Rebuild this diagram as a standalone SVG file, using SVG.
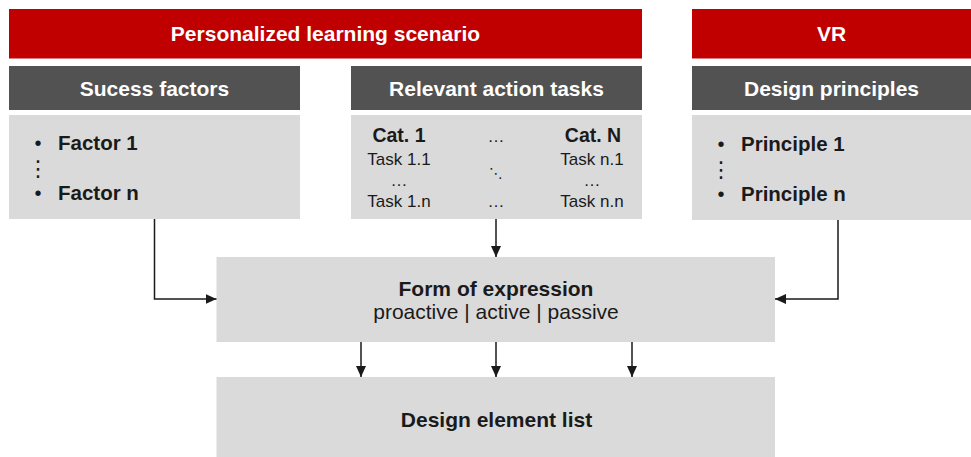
<svg xmlns="http://www.w3.org/2000/svg" width="971" height="457" viewBox="0 0 971 457">
  <defs>
    <marker id="arrow" markerUnits="userSpaceOnUse" markerWidth="11" markerHeight="10" refX="11" refY="5" orient="auto">
      <path d="M0,0 L11,5 L0,10 z" fill="#1a1a1a"/>
    </marker>
  </defs>
  <style>
    .red { fill: #c00000; }
    .dark { fill: #525252; }
    .light { fill: #dadada; }
    .hdr { font-family: "Liberation Sans", Arial, sans-serif; font-weight: bold; font-size: 21px; fill: #ffffff; text-anchor: middle; }
    .item { font-family: "Liberation Sans", Arial, sans-serif; font-weight: bold; font-size: 20.5px; fill: #1a1a1a; }
    .bul { font-family: "Liberation Sans", Arial, sans-serif; font-size: 20px; fill: #1a1a1a; text-anchor: middle; }
    .vdots { font-family: "DejaVu Sans", sans-serif; font-size: 22px; fill: #1a1a1a; text-anchor: middle; }
    .cat { font-family: "Liberation Sans", Arial, sans-serif; font-weight: bold; font-size: 19.5px; fill: #1a1a1a; text-anchor: middle; }
    .task { font-family: "Liberation Sans", Arial, sans-serif; font-size: 17px; fill: #1a1a1a; text-anchor: middle; }
    .sym { font-family: "DejaVu Sans", sans-serif; font-size: 14px; fill: #1a1a1a; text-anchor: middle; }
    .main { font-family: "Liberation Sans", Arial, sans-serif; font-weight: bold; font-size: 21px; fill: #1a1a1a; text-anchor: middle; }
    .sub { font-family: "Liberation Sans", Arial, sans-serif; font-size: 21px; fill: #1a1a1a; text-anchor: middle; }
    .conn { fill: none; stroke: #1a1a1a; stroke-width: 1.5; marker-end: url(#arrow); }
  </style>

  <!-- top banners -->
  <g id="scenario">
    <rect class="red" x="9" y="9" width="633" height="49.5"/>
    <text class="hdr" x="325.5" y="41">Personalized learning scenario</text>
  </g>
  <g id="vr">
    <rect class="red" x="692" y="9" width="279" height="49.5"/>
    <text class="hdr" x="831.5" y="41">VR</text>
  </g>

  <!-- success factors column -->
  <g id="success-factors">
    <rect class="dark" x="9" y="66" width="291" height="44"/>
    <text class="hdr" x="154.5" y="96">Sucess factors</text>
    <rect class="light" x="9" y="115" width="291" height="104"/>
    <text class="bul" x="38" y="150">•</text>
    <text class="item" x="58" y="150">Factor 1</text>
    <text class="vdots" x="38" y="176">⋮</text>
    <text class="bul" x="38" y="200">•</text>
    <text class="item" x="58" y="200">Factor n</text>
  </g>

  <!-- action tasks column -->
  <g id="action-tasks">
    <rect class="dark" x="351" y="66" width="291" height="44"/>
    <text class="hdr" x="496.5" y="96">Relevant action tasks</text>
    <rect class="light" x="351" y="115" width="291" height="104"/>
    <text class="cat" x="399" y="142">Cat. 1</text>
    <text class="cat" x="593" y="142">Cat. N</text>
    <text class="task" x="496" y="142">…</text>
    <text class="task" x="399" y="165">Task 1.1</text>
    <text class="task" x="592" y="165">Task n.1</text>
    <text class="sym" x="496" y="178">⋱</text>
    <text class="task" x="399" y="186">…</text>
    <text class="task" x="592" y="186">…</text>
    <text class="task" x="399" y="207">Task 1.n</text>
    <text class="task" x="496" y="207">…</text>
    <text class="task" x="592" y="207">Task n.n</text>
  </g>

  <!-- design principles column -->
  <g id="design-principles">
    <rect class="dark" x="692" y="66" width="279" height="44"/>
    <text class="hdr" x="831.5" y="96">Design principles</text>
    <rect class="light" x="692" y="115" width="279" height="105"/>
    <text class="bul" x="721" y="151">•</text>
    <text class="item" x="741" y="151">Principle 1</text>
    <text class="vdots" x="721" y="177">⋮</text>
    <text class="bul" x="721" y="201">•</text>
    <text class="item" x="741" y="201">Principle n</text>
  </g>

  <!-- central boxes -->
  <g id="form-of-expression">
    <rect class="light" x="216.5" y="257" width="558.5" height="85"/>
    <text class="main" x="496" y="296">Form of expression</text>
    <text class="sub" x="496" y="319">proactive | active | passive</text>
  </g>
  <g id="design-element-list">
    <rect class="light" x="216.5" y="377" width="558.5" height="80"/>
    <text class="main" x="496.5" y="427">Design element list</text>
  </g>

  <!-- connectors -->
  <g id="connectors">
    <path class="conn" d="M154.5,219 V299 H216.5"/>
    <path class="conn" d="M496,219 V257"/>
    <path class="conn" d="M838,220 V299 H775"/>
    <path class="conn" d="M361,342 V377"/>
    <path class="conn" d="M496,342 V377"/>
    <path class="conn" d="M632,342 V377"/>
  </g>
</svg>
